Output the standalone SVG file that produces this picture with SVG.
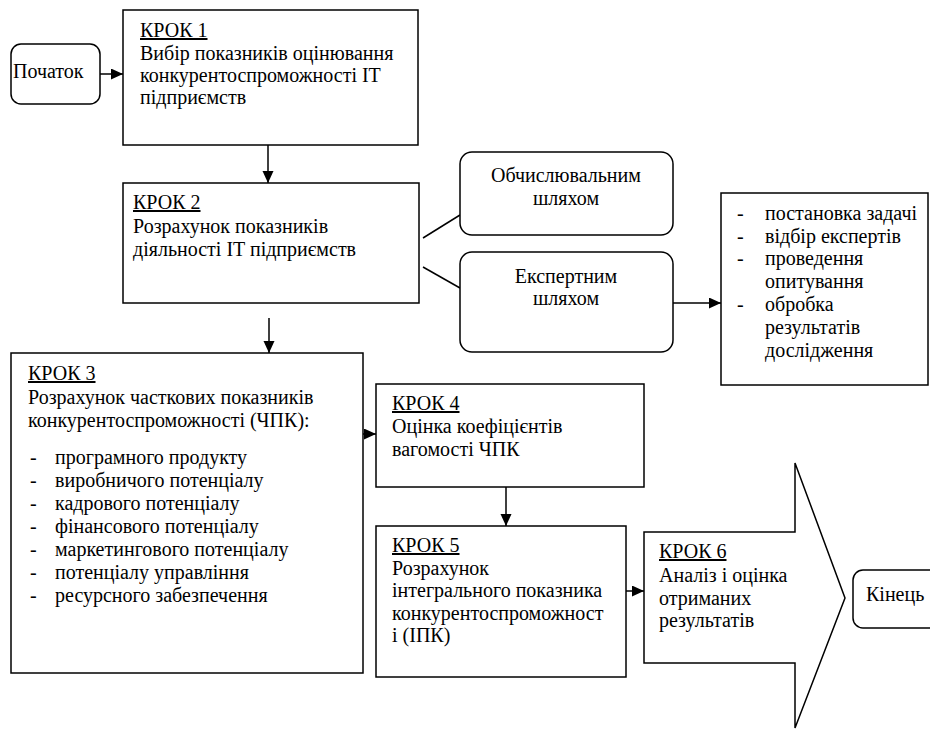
<svg xmlns="http://www.w3.org/2000/svg" width="930" height="731" viewBox="0 0 930 731">
<style>
.box{fill:#fff;stroke:#000;stroke-width:1.5}
.ln{fill:none;stroke:#000;stroke-width:1.5}
.t text{font-size:20px;fill:#000}
.h{text-decoration:underline}
.c{text-anchor:middle}
</style>
<defs>
<marker id="ah" markerUnits="userSpaceOnUse" markerWidth="13" markerHeight="12" refX="12" refY="5.5" orient="auto">
<path d="M0,0 L12,5.5 L0,11 z" fill="#000"/>
</marker>
</defs>
<rect width="930" height="731" fill="#fff"/>
<g id="connectors">
<line class="ln" x1="100" y1="74" x2="123" y2="74" marker-end="url(#ah)"/>
<line class="ln" x1="268" y1="145" x2="268" y2="183" marker-end="url(#ah)"/>
<line class="ln" x1="269" y1="318" x2="269" y2="353" marker-end="url(#ah)"/>
<line class="ln" x1="423" y1="238" x2="460" y2="215"/>
<line class="ln" x1="423" y1="267" x2="460" y2="288"/>
<line class="ln" x1="673" y1="303" x2="721" y2="303" marker-end="url(#ah)"/>
<line class="ln" x1="363" y1="434" x2="376" y2="434" marker-end="url(#ah)"/>
<line class="ln" x1="506" y1="487" x2="506" y2="526" marker-end="url(#ah)"/>
<line class="ln" x1="626" y1="591" x2="644" y2="591" marker-end="url(#ah)"/>
</g>
<g class="t" font-family="'Liberation Serif', 'Times New Roman', 'DejaVu Serif', serif">
<g id="start">
<rect class="box" x="11" y="44" width="89" height="60" rx="10"/>
<text x="13" y="78">Початок</text>
</g>
<g id="step1">
<rect class="box" x="123" y="10" width="295" height="135"/>
<text x="140" y="37" class="h">КРОК 1</text>
<text x="140" y="60">Вибір показників оцінювання</text>
<text x="140" y="82">конкурентоспроможності IT</text>
<text x="140" y="104">підприємств</text>
</g>
<g id="step2">
<rect class="box" x="123" y="183" width="296" height="120"/>
<text x="133" y="209" class="h">КРОК 2</text>
<text x="133" y="233">Розрахунок показників</text>
<text x="133" y="256">діяльності IT підприємств</text>
</g>
<g id="calc">
<rect class="box" x="460" y="152" width="213" height="83" rx="12"/>
<text x="566" y="182" class="c">Обчислювальним</text>
<text x="566" y="205" class="c">шляхом</text>
</g>
<g id="expert">
<rect class="box" x="460" y="252" width="213" height="100" rx="12"/>
<text x="566" y="283" class="c">Експертним</text>
<text x="566" y="305" class="c">шляхом</text>
</g>
<g id="expert-list">
<rect class="box" x="721" y="193" width="207" height="192"/>
<text x="737" y="220">-</text><text x="765" y="220">постановка задачі</text>
<text x="737" y="243">-</text><text x="765" y="243">відбір експертів</text>
<text x="737" y="265">-</text><text x="765" y="265">проведення</text>
<text x="765" y="288">опитування</text>
<text x="737" y="311">-</text><text x="765" y="311">обробка</text>
<text x="765" y="334">результатів</text>
<text x="765" y="357">дослідження</text>
</g>
<g id="step3">
<rect class="box" x="11" y="353" width="352" height="320"/>
<text x="28" y="380" class="h">КРОК 3</text>
<text x="28" y="404">Розрахунок часткових показників</text>
<text x="28" y="427">конкурентоспроможності (ЧПК):</text>
<text x="30" y="464">-</text><text x="55" y="464">програмного продукту</text>
<text x="30" y="487">-</text><text x="55" y="487">виробничого потенціалу</text>
<text x="30" y="510">-</text><text x="55" y="510">кадрового потенціалу</text>
<text x="30" y="533">-</text><text x="55" y="533">фінансового потенціалу</text>
<text x="30" y="556">-</text><text x="55" y="556">маркетингового потенціалу</text>
<text x="30" y="579">-</text><text x="55" y="579">потенціалу управління</text>
<text x="30" y="602">-</text><text x="55" y="602">ресурсного забезпечення</text>
</g>
<g id="step4">
<rect class="box" x="376" y="384" width="268" height="103"/>
<text x="392" y="410" class="h">КРОК 4</text>
<text x="392" y="433">Оцінка коефіцієнтів</text>
<text x="392" y="456">вагомості ЧПК</text>
</g>
<g id="step5">
<rect class="box" x="376" y="526" width="250" height="151"/>
<text x="392" y="552" class="h">КРОК 5</text>
<text x="392" y="575">Розрахунок</text>
<text x="392" y="597">інтегрального показника</text>
<text x="392" y="620">конкурентоспроможност</text>
<text x="392" y="642">і (ІПК)</text>
</g>
<g id="step6">
<polygon class="box" points="644,532 795,532 795,463 845,598 795,728 795,663 644,663"/>
<text x="659" y="558" class="h">КРОК 6</text>
<text x="659" y="582">Аналіз і оцінка</text>
<text x="659" y="605">отриманих</text>
<text x="659" y="627">результатів</text>
</g>
<g id="end">
<rect class="box" x="853" y="570" width="100" height="58" rx="10"/>
<text x="866" y="601">Кінець</text>
</g>
</g>
</svg>
